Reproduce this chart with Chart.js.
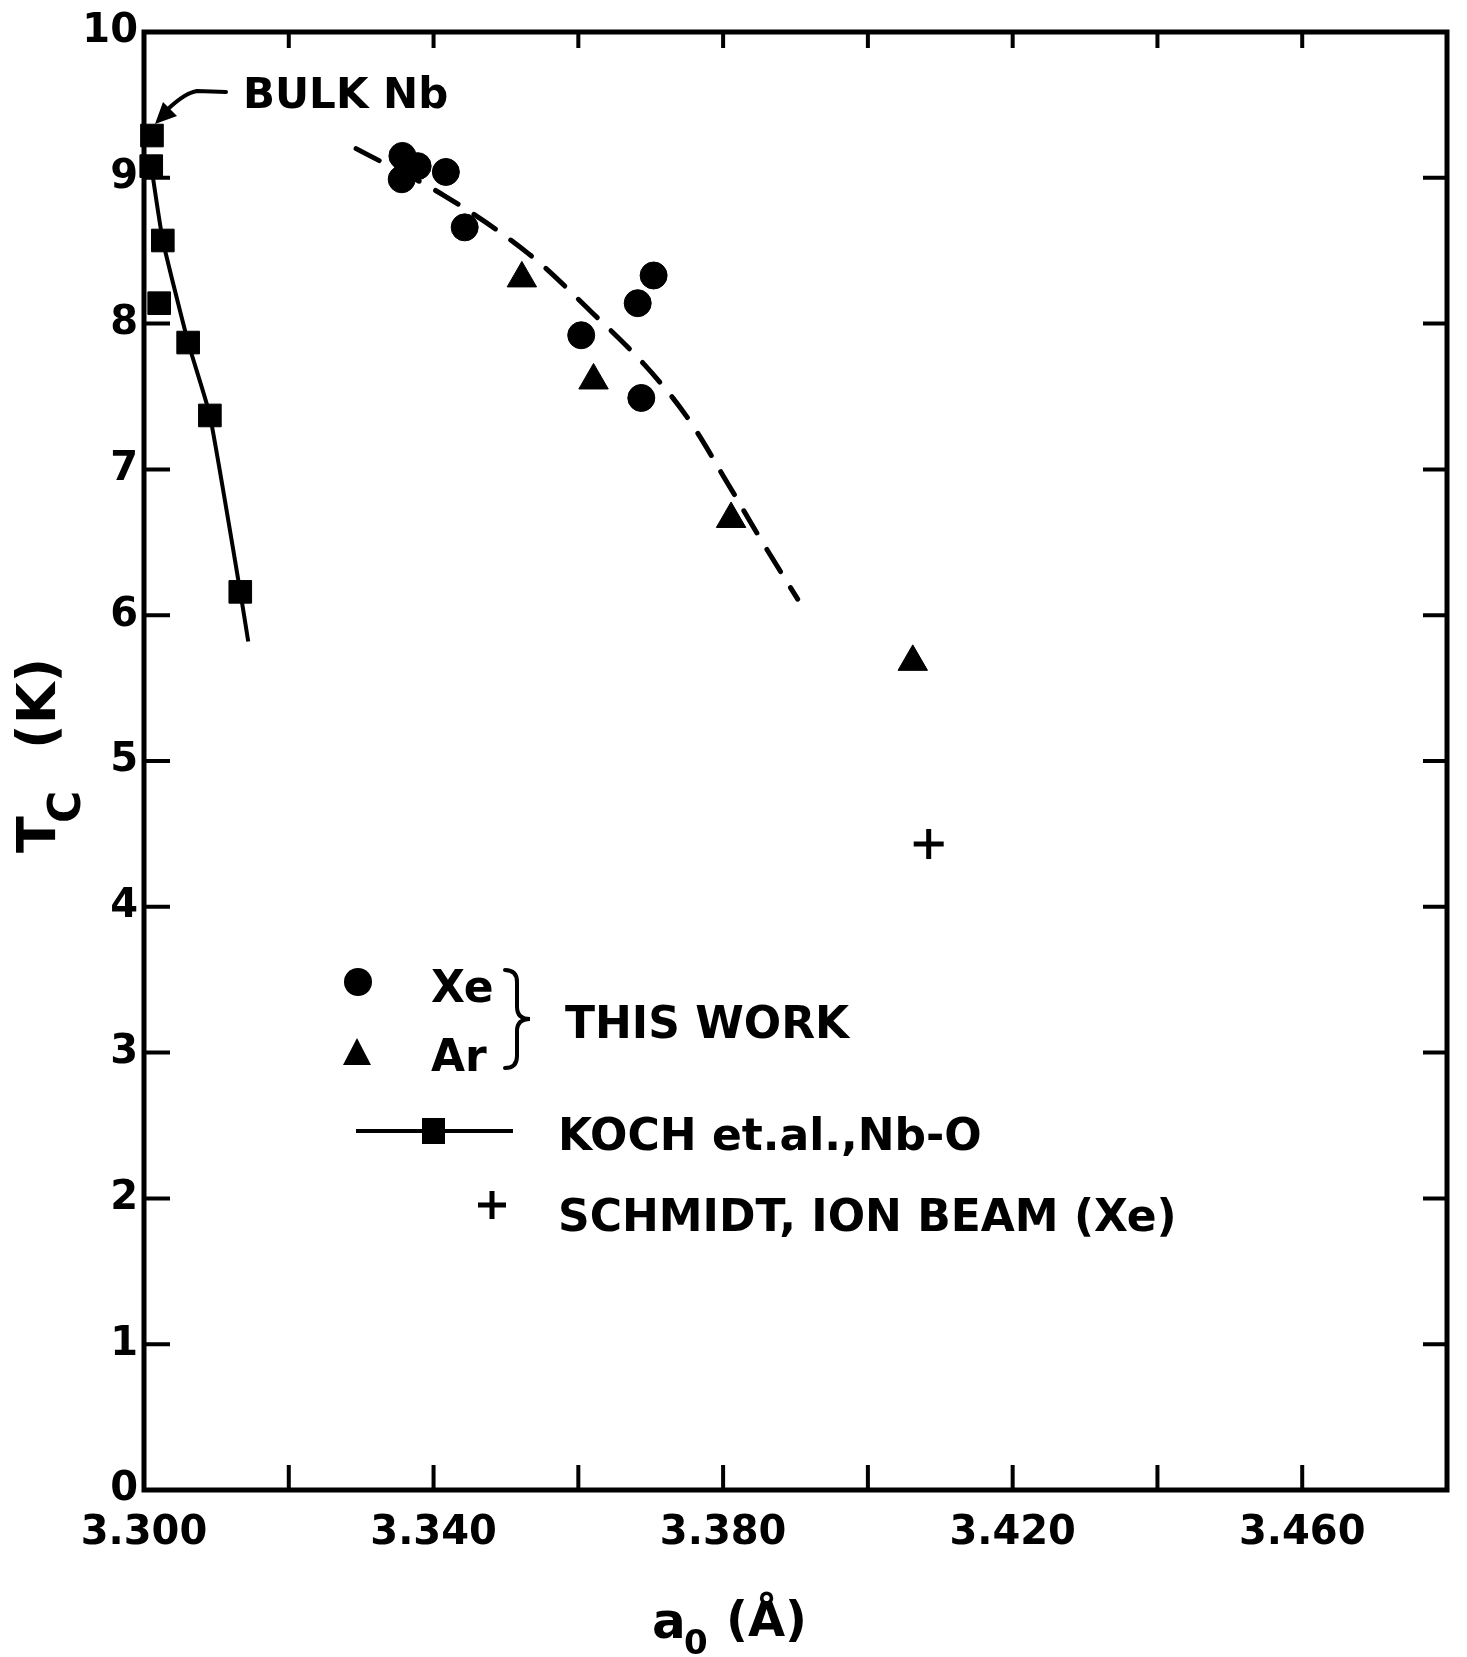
<!DOCTYPE html>
<html><head><meta charset="utf-8">
<script src="https://cdn.jsdelivr.net/npm/chart.js@4.4.0/dist/chart.umd.min.js"></script>
<style>html,body{margin:0;padding:0;background:#fff;}canvas{display:block;}</style>
</head><body>
<canvas id="c" width="1467" height="1657"></canvas>
<script>
// ---- data (lattice parameter a0 in Å, Tc in K) ----
const xeLattice   = [3.3357, 3.3356, 3.3378, 3.3417, 3.3443, 3.3604, 3.3682, 3.3704, 3.3687];
const xeTc        = [9.15,   8.99,   9.08,   9.04,   8.66,   7.92,   8.14,   8.33,   7.49];
const arLattice   = [3.3522, 3.3621, 3.3811, 3.4062];
const arTc        = [8.31,   7.61,   6.66,   5.68];
const kochLattice = [3.3011, 3.3010, 3.3026, 3.3021, 3.3061, 3.3091, 3.3133];
const kochTc      = [9.29,   9.08,   8.57,   8.14,   7.87,   7.37,   6.16];
const kochFitLattice = [3.3010, 3.3026, 3.3061, 3.3091, 3.3133, 3.3144];
const kochFitTc      = [9.08,   8.57,   7.87,   7.37,   6.16,   5.82];
const schmidtLattice = [3.4084];
const schmidtTc      = [4.43];
const trendLattice = [3.3293, 3.3414, 3.3531, 3.3618, 3.3691, 3.3750, 3.3808, 3.3852, 3.3903];
const trendTc      = [9.20,   8.88,   8.48,   8.08,   7.72,   7.36,   6.89,   6.52,   6.11];
const xTickLabels = ['3.300', '3.340', '3.380', '3.420', '3.460'];
const yTickLabels = ['0','1','2','3','4','5','6','7','8','9','10'];

const FONT = "'DejaVu Sans', 'Liberation Sans', sans-serif";
const pts = (xs, ys) => xs.map((v, i) => ({x: v, y: ys[i]}));

function txt(ctx, s, x, cy, size, align) {
  ctx.font = 'bold ' + size + 'px ' + FONT;
  ctx.textAlign = align || 'left';
  ctx.textBaseline = 'alphabetic';
  ctx.fillText(s, x, cy + 0.365 * size);
}

const decor = {
  id: 'decor',
  beforeDatasetsDraw(chart) {
    const {ctx, chartArea: a, scales: {x, y}} = chart;
    ctx.save();
    ctx.strokeStyle = '#000';
    ctx.lineWidth = 5;
    ctx.strokeRect(a.left, a.top, a.right - a.left, a.bottom - a.top);
    ctx.lineWidth = 4;
    ctx.beginPath();
    x.ticks.forEach(t => {
      if (t.value <= x.min + 1e-9 || t.value >= x.max - 1e-9) return;
      const px = x.getPixelForValue(t.value);
      ctx.moveTo(px, a.bottom); ctx.lineTo(px, a.bottom - 25);
      ctx.moveTo(px, a.top); ctx.lineTo(px, a.top + 16);
    });
    y.ticks.forEach(t => {
      if (t.value <= y.min + 1e-9 || t.value >= y.max - 1e-9) return;
      const py = y.getPixelForValue(t.value);
      ctx.moveTo(a.left, py); ctx.lineTo(a.left + 26, py);
      ctx.moveTo(a.right, py); ctx.lineTo(a.right - 24, py);
    });
    ctx.stroke();
    ctx.restore();
  },
  afterDraw(chart) {
    const {ctx} = chart;
    ctx.save();
    ctx.fillStyle = '#000';
    ctx.strokeStyle = '#000';

    // BULK Nb label with arrow
    txt(ctx, 'BULK Nb', 243, 93, 42);
    ctx.lineWidth = 4; ctx.lineCap = 'round';
    ctx.beginPath();
    ctx.moveTo(226, 92); ctx.lineTo(197, 91);
    ctx.quadraticCurveTo(185, 93, 168, 109);
    ctx.stroke();
    ctx.beginPath();
    ctx.moveTo(155, 124); ctx.lineTo(163, 102); ctx.lineTo(177, 116); ctx.closePath();
    ctx.fill();

    // legend
    ctx.beginPath(); ctx.arc(358, 982, 14, 0, Math.PI * 2); ctx.fill();
    txt(ctx, 'Xe', 431, 986, 44);
    ctx.beginPath(); ctx.moveTo(357, 1038); ctx.lineTo(371, 1065); ctx.lineTo(343, 1065); ctx.closePath(); ctx.fill();
    txt(ctx, 'Ar', 431, 1055, 44);
    // brace
    ctx.lineWidth = 4; ctx.lineCap = 'round';
    const x0 = 505, x1 = 517, xp = 530, top = 970, bot = 1068, mid = 1019;
    ctx.beginPath();
    ctx.moveTo(x0, top);
    ctx.quadraticCurveTo(x1, top, x1, top + 12);
    ctx.lineTo(x1, mid - 12);
    ctx.quadraticCurveTo(x1, mid, xp, mid);
    ctx.quadraticCurveTo(x1, mid, x1, mid + 12);
    ctx.lineTo(x1, bot - 12);
    ctx.quadraticCurveTo(x1, bot, x0, bot);
    ctx.stroke();
    txt(ctx, 'THIS WORK', 565, 1022, 44);
    // Koch
    ctx.lineWidth = 4; ctx.lineCap = 'butt';
    ctx.beginPath(); ctx.moveTo(356, 1131); ctx.lineTo(513, 1131); ctx.stroke();
    ctx.fillRect(422, 1118, 23, 26);
    txt(ctx, 'KOCH et.al.,Nb-O', 558, 1134, 44);
    // Schmidt
    ctx.lineWidth = 5;
    ctx.beginPath(); ctx.moveTo(478, 1205); ctx.lineTo(506, 1205); ctx.moveTo(492, 1191); ctx.lineTo(492, 1219); ctx.stroke();
    txt(ctx, 'SCHMIDT, ION BEAM (Xe)', 558, 1215, 44);

    // x-axis title: a0 (Å)
    ctx.textAlign = 'left'; ctx.textBaseline = 'alphabetic';
    ctx.font = 'bold 50px ' + FONT; ctx.fillText('a', 652, 1638);
    ctx.font = 'bold 34px ' + FONT; ctx.fillText('0', 684, 1654);
    ctx.font = 'bold 48px ' + FONT; ctx.fillText('(Å)', 726, 1636);

    // y-axis title: Tc (K)
    ctx.save();
    ctx.translate(55, 853);
    ctx.rotate(-Math.PI / 2);
    ctx.font = 'bold 54px ' + FONT; ctx.fillText('T', 0, 0);
    ctx.font = 'bold 44px ' + FONT; ctx.fillText('C', 30, 25);
    ctx.font = 'bold 54px ' + FONT; ctx.fillText('(K)', 104, 0);
    ctx.restore();

    ctx.restore();
  }
};

new Chart(document.getElementById('c'), {
  type: 'scatter',
  data: {
    datasets: [
      {label: 'Xe (this work)', data: pts(xeLattice, xeTc), pointStyle: 'circle', pointRadius: 13.5,
       backgroundColor: '#000', borderColor: '#000', borderWidth: 1, clip: false},
      {label: 'Ar (this work)', data: pts(arLattice, arTc), pointStyle: 'triangle', pointRadius: 17,
       backgroundColor: '#000', borderColor: '#000', borderWidth: 1, clip: false},
      {label: 'Koch et al., Nb-O', data: pts(kochLattice, kochTc), pointStyle: 'rect', pointRadius: 16,
       backgroundColor: '#000', borderColor: '#000', borderWidth: 1, clip: false},
      {label: 'Schmidt, ion beam (Xe)', data: pts(schmidtLattice, schmidtTc), pointStyle: 'cross', pointRadius: 15,
       backgroundColor: '#000', borderColor: '#000', borderWidth: 5, clip: false},
      {label: 'Koch fit', type: 'line', data: pts(kochFitLattice, kochFitTc), showLine: true, pointRadius: 0,
       borderColor: '#000', borderWidth: 4, tension: 0.15, fill: false, clip: false},
      {label: 'This work trend', type: 'line', data: pts(trendLattice, trendTc), showLine: true, pointRadius: 0,
       borderColor: '#000', borderWidth: 5, borderDash: [26, 19], borderCapStyle: 'round', tension: 0.35, fill: false, clip: false}
    ]
  },
  options: {
    responsive: false,
    animation: false,
    devicePixelRatio: 1,
    layout: {padding: {left: 0, right: 19, top: 32, bottom: 0}},
    plugins: {legend: {display: false}, tooltip: {enabled: false}},
    scales: {
      x: {
        type: 'linear', min: 3.3, max: 3.48,
        grid: {display: false, drawTicks: false},
        border: {display: false},
        ticks: {
          stepSize: 0.02, padding: 20, color: '#000', maxRotation: 0, autoSkip: false,
          font: {family: FONT, size: 40, weight: 'bold'},
          callback: v => { const s = v.toFixed(3); return xTickLabels.includes(s) ? s : ''; }
        },
        afterFit: s => { s.height = 167; }
      },
      y: {
        type: 'linear', min: 0, max: 10,
        grid: {display: false, drawTicks: false},
        border: {display: false},
        ticks: {
          stepSize: 1, padding: 6, color: '#000', autoSkip: false,
          font: {family: FONT, size: 40, weight: 'bold'},
          callback: v => { const s = String(Math.round(v)); return yTickLabels.includes(s) ? s : ''; }
        },
        afterFit: s => { s.width = 144; }
      }
    }
  },
  plugins: [decor]
});
</script>
</body></html>
